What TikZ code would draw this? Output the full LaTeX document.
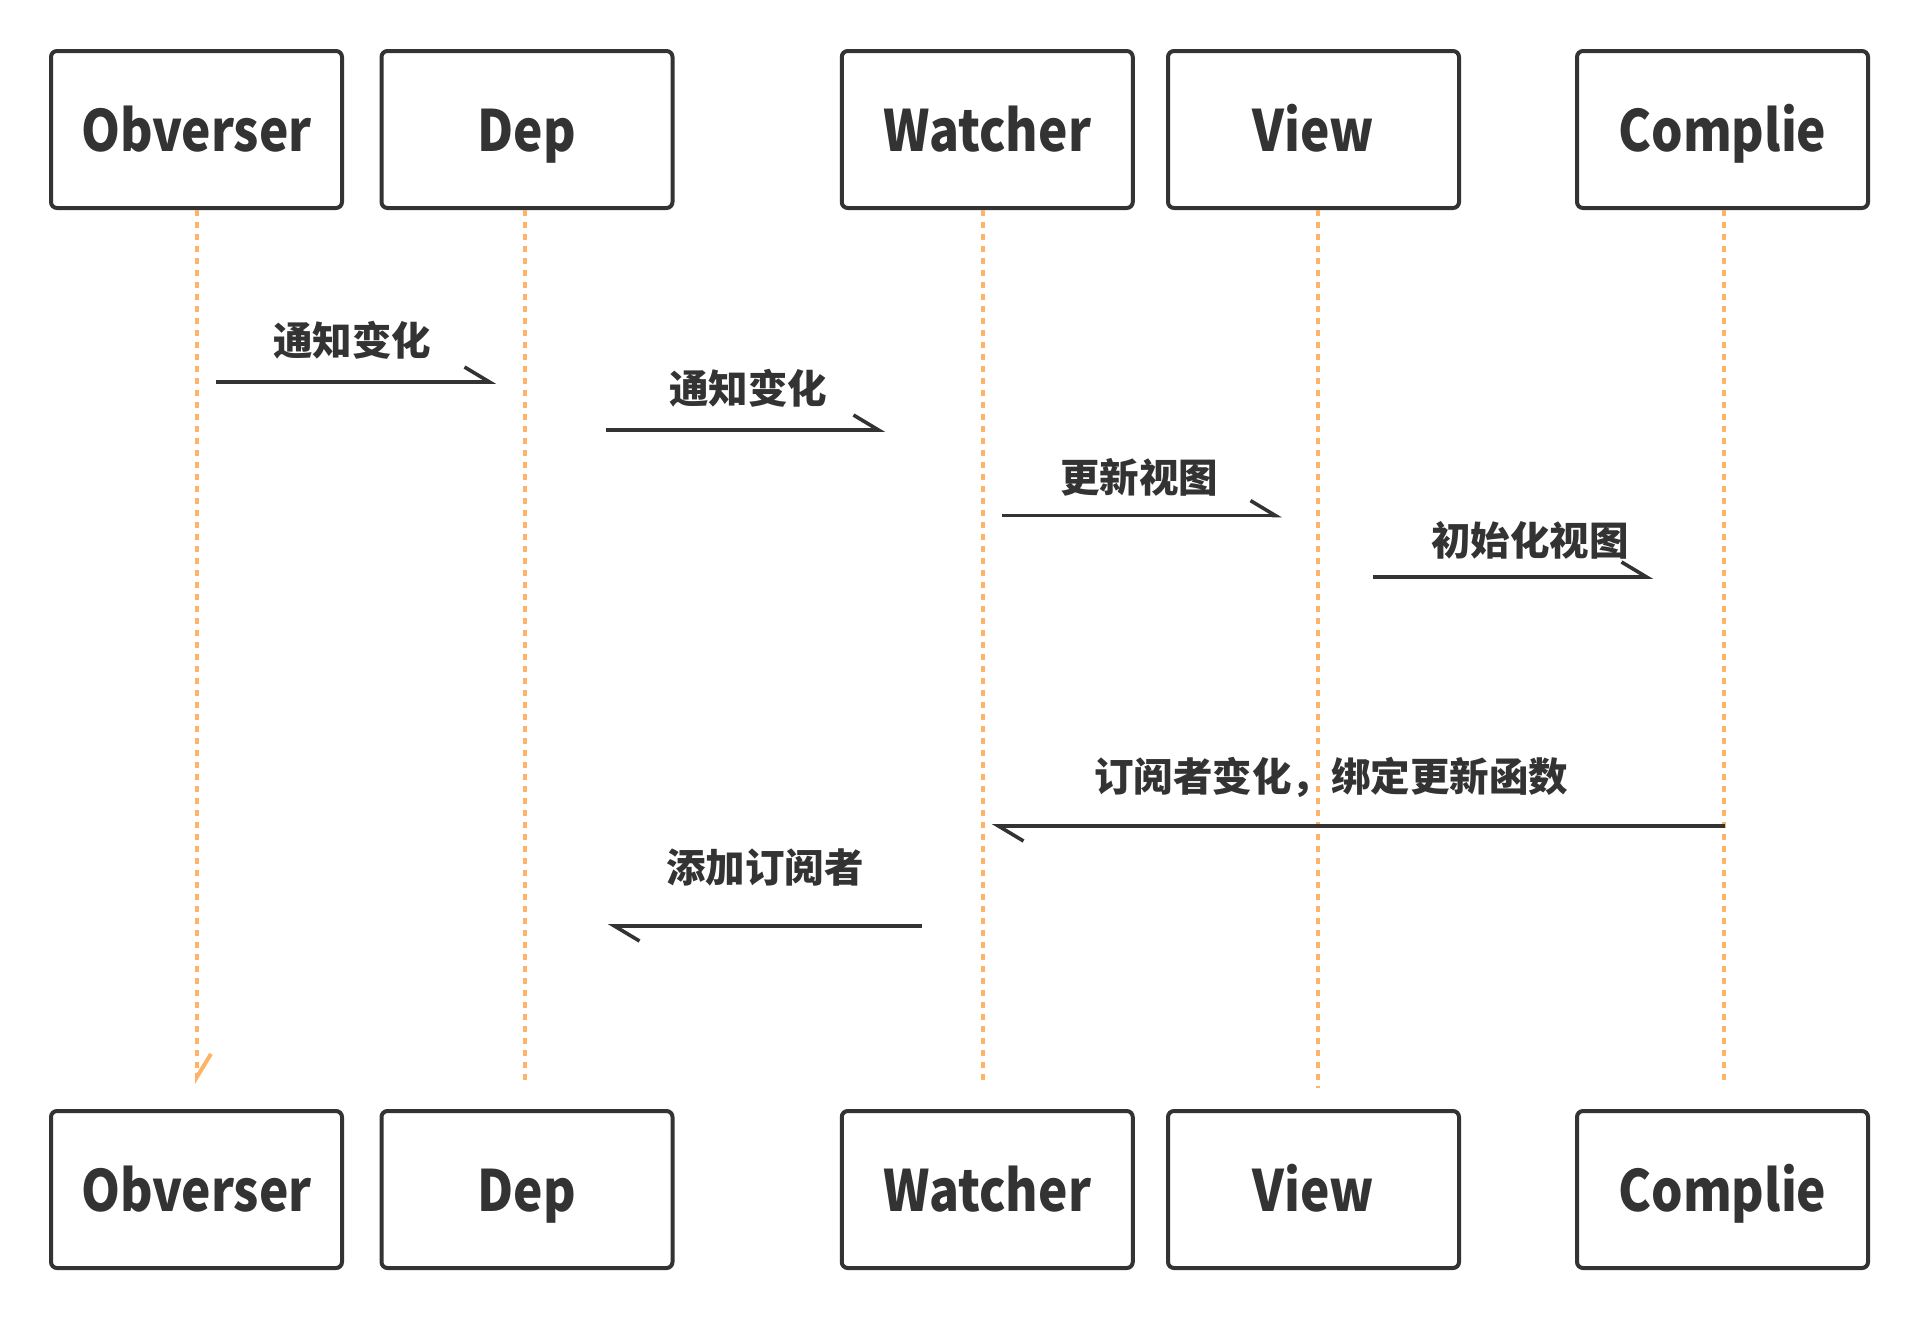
\documentclass[tikz,border=0pt]{standalone}
\usepackage{fontspec}
\setmainfont{Noto Sans CJK SC}
\newfontfamily\boxfont{Noto Sans CJK SC}[FakeStretch=0.87]
\usetikzlibrary{arrows.meta}
\definecolor{ink}{HTML}{333333}
\definecolor{lifeC}{HTML}{FFB366}
\begin{document}
\begin{tikzpicture}[x=0.5pt,y=-0.5pt,
  actor/.style={draw=ink, line width=2pt, rounded corners=3pt,
    minimum width=145.5pt, minimum height=78.5pt, inner sep=0pt, fill=white,
    font=\boxfont\fontsize{28.5pt}{30pt}\selectfont\bfseries, text=ink,
    text height=22pt, text depth=0pt},
  lifeline/.style={draw=lifeC, line width=2pt, dash pattern=on 3pt off 3pt},
  lifetip/.style={-{Straight Barb[left,length=11.5pt,width=14pt]}},
  msg/.style={draw=ink, line width=1.8pt, -{Straight Barb[left,length=12.5pt,width=15pt]}},
  msglabel/.style={font=\fontsize{19.75pt}{22pt}\selectfont\bfseries, text=ink, inner sep=0pt},
]
\useasboundingbox (0,0) rectangle (1918,1318);
% top actors
\node[actor] (obsT) at (196.5,129.5) {Obverser};
\node[actor] (depT) at (527,129.5) {Dep};
\node[actor] (watT) at (987.25,129.5) {Watcher};
\node[actor] (viewT) at (1313.5,129.5) {View};
\node[actor] (comT) at (1722.5,129.5) {Complie};
% bottom actors
\node[actor] (obsB) at (196.5,1189.5) {Obverser};
\node[actor] (depB) at (527,1189.5) {Dep};
\node[actor] (watB) at (987.25,1189.5) {Watcher};
\node[actor] (viewB) at (1313.5,1189.5) {View};
\node[actor] (comB) at (1722.5,1189.5) {Complie};
% lifeline ends
\coordinate (obsE) at (197,1084);
\coordinate (depE) at (525,1084);
\coordinate (watE) at (983,1084);
\coordinate (viewE) at (1318,1088);
\coordinate (comE) at (1724,1082);
\draw[lifeline, lifetip] (obsT.south -| obsE) -- (obsE);
\draw[lifeline] (depT.south -| depE) -- (depE);
\draw[lifeline] (watT.south -| watE) -- (watE);
\draw[lifeline] (viewT.south -| viewE) -- (viewE);
\draw[lifeline] (comT.south -| comE) -- (comE);
% messages
\coordinate (m1s) at (216,382);  \coordinate (m1e) at (496,382);
\coordinate (m2s) at (606,430);  \coordinate (m2e) at (885,430);
\coordinate (m3s) at (1002,515.6); \coordinate (m3e) at (1282,515.6);
\coordinate (m4s) at (1373,577); \coordinate (m4e) at (1653,577);
\coordinate (m5s) at (1725,826); \coordinate (m5e) at (992,826);
\coordinate (m6s) at (922,926);  \coordinate (m6e) at (608,926);
\draw[msg] (m1s) -- (m1e);
\draw[msg] (m2s) -- (m2e);
\draw[msg] (m3s) -- (m3e);
\draw[msg] (m4s) -- (m4e);
\draw[msg] (m5s) -- (m5e);
\draw[msg] (m6s) -- (m6e);
% labels
\node[msglabel] (l1) at (352,340) {通知变化};
\node[msglabel] (l2) at (748,388) {通知变化};
\node[msglabel] (l3) at (1139,477) {更新视图};
\node[msglabel] (l4) at (1530,540.5) {初始化视图};
\node[msglabel] (l5) at (1331,777) {订阅者变化，绑定更新函数};
\node[msglabel] (l6) at (765,867.5) {添加订阅者};
\end{tikzpicture}
\end{document}
